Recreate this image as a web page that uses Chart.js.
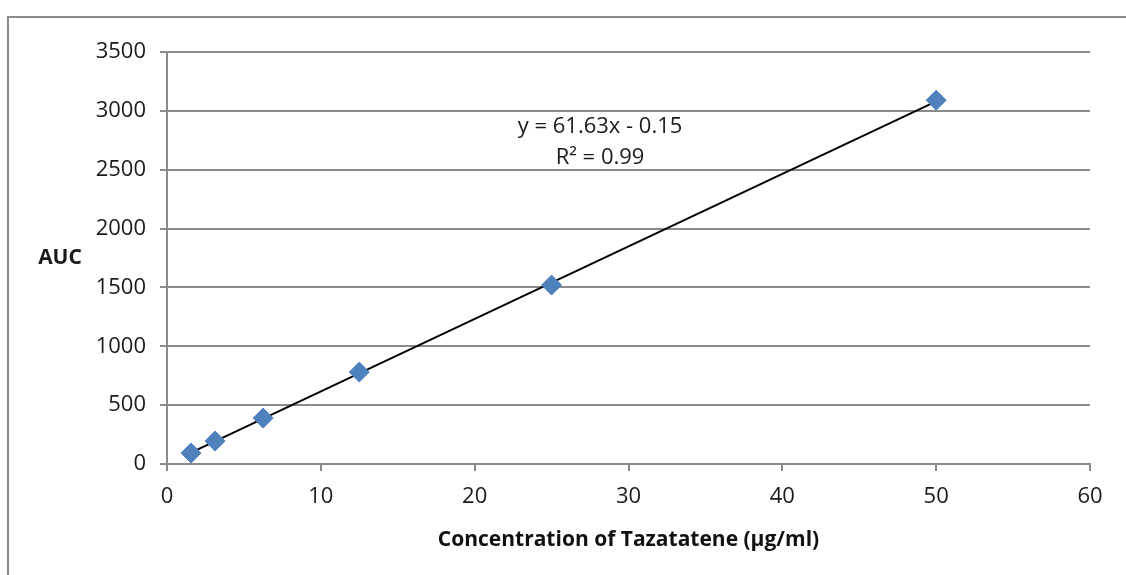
<!DOCTYPE html>
<html>
<head>
<meta charset="utf-8">
<script src="https://cdn.jsdelivr.net/npm/chart.js@4/dist/chart.umd.min.js"></script>
<style>
  html, body { margin: 0; padding: 0; background: #fff; overflow: hidden; }
  #frame { position: absolute; left: 7px; top: 16px; width: 1300px; height: 800px; border: 2px solid #8a8a8a; box-sizing: border-box; }
  #wrap { position: absolute; left: 0; top: 0; width: 1126px; height: 575px; }
</style>
</head>
<body>
<div id="frame"></div>
<div id="wrap"><canvas id="c" width="1126" height="575"></canvas></div>
<script>
// Data
const concentrations = [1.5625, 3.125, 6.25, 12.5, 25, 50];
const aucValues = [93, 195, 390, 781, 1520, 3090];
const trendX = [1.5625, 50];
const trendY = [96, 3081];
const xTicks = [0, 10, 20, 30, 40, 50, 60];
const yTicks = [0, 500, 1000, 1500, 2000, 2500, 3000, 3500];
const equationText = 'y = 61.63x - 0.15';
const r2Text = 'R\u00B2 = 0.99';
const equationAnchor = { x: 28.15, y: 2863 };
const r2Anchor = { x: 28.15, y: 2600 };
const xTitle = 'Concentration of Tazatatene (\u03BCg/ml)';
const yTitle = 'AUC';

const GRID = '#8a8a8a';
const FONT = "'Open Sans', 'Liberation Sans', sans-serif";

const annotations = {
  id: 'annotations',
  afterDatasetsDraw(chart) {
    const { ctx, scales } = chart;
    ctx.save();
    ctx.fillStyle = '#1a1a1a';
    ctx.font = '22px ' + FONT;
    ctx.textAlign = 'center';
    ctx.textBaseline = 'middle';
    ctx.fillText(equationText, scales.x.getPixelForValue(equationAnchor.x), scales.y.getPixelForValue(equationAnchor.y));
    ctx.fillText(r2Text, scales.x.getPixelForValue(r2Anchor.x), scales.y.getPixelForValue(r2Anchor.y));
    ctx.font = 'bold 21px ' + FONT;
    ctx.fillText(yTitle, 60, 258);
    ctx.restore();
  }
};

new Chart(document.getElementById('c'), {
  type: 'scatter',
  data: {
    datasets: [
      {
        label: 'Trend',
        type: 'line',
        data: trendX.map((x, i) => ({ x, y: trendY[i] })),
        borderColor: '#000',
        borderWidth: 2,
        pointRadius: 0,
        fill: false,
        order: 2
      },
      {
        label: 'AUC',
        data: concentrations.map((x, i) => ({ x, y: aucValues[i] })),
        pointStyle: 'rectRot',
        pointRadius: 10,
        pointHoverRadius: 10,
        backgroundColor: '#4F81BD',
        borderColor: '#4F81BD',
        borderWidth: 1,
        order: 1
      }
    ]
  },
  options: {
    responsive: false,
    animation: false,
    devicePixelRatio: 1,
    layout: { padding: { left: 0, top: 52, right: 36, bottom: 0 } },
    plugins: { legend: { display: false }, tooltip: { enabled: false } },
    scales: {
      x: {
        type: 'linear',
        min: 0, max: 60,
        afterBuildTicks(s) { s.ticks = xTicks.map(v => ({ value: v })); },
        afterFit(s) { s.height = 111; },
        border: { display: true, color: GRID, width: 2 },
        grid: { drawOnChartArea: false, drawTicks: true, tickLength: 7, color: GRID, lineWidth: 2 },
        ticks: { color: '#1a1a1a', font: { family: FONT, size: 22 }, padding: 13, maxRotation: 0, callback: v => String(v) },
        title: { display: true, text: xTitle, color: '#111', font: { family: FONT, size: 21, weight: 'bold' }, padding: { top: 0, bottom: 22 } }
      },
      y: {
        type: 'linear',
        min: 0, max: 3500,
        afterBuildTicks(s) { s.ticks = yTicks.map(v => ({ value: v })); },
        afterFit(s) { s.width = 167; },
        border: { display: true, color: GRID, width: 2 },
        grid: { drawOnChartArea: true, drawTicks: true, tickLength: 7, color: GRID, lineWidth: 2 },
        ticks: { color: '#1a1a1a', font: { family: FONT, size: 22 }, padding: 14, callback: v => String(v) }
      }
    }
  },
  plugins: [annotations]
});
</script>
</body>
</html>
